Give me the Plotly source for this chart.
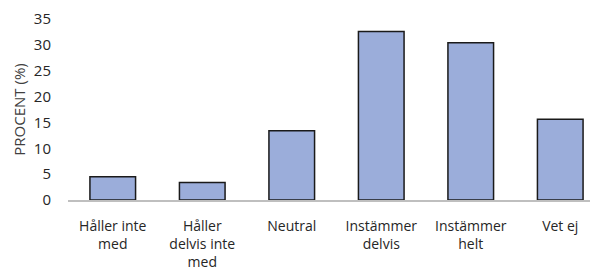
import plotly.graph_objects as go

categories = ["Håller inte<br>med", "Håller<br>delvis inte<br>med", "Neutral",
              "Instämmer<br>delvis", "Instämmer<br>helt", "Vet ej"]
values = [4.5, 3.4, 13.4, 32.6, 30.4, 15.6]
y_ticks = [0, 5, 10, 15, 20, 25, 30, 35]

fig = go.Figure(go.Bar(
    x=categories, y=values,
    marker=dict(color="#9badda", line=dict(color="#1a1a1a", width=1.5)),
))

font = "Open Sans, Liberation Sans, sans-serif"
fig.update_layout(
    width=598, height=275,
    margin=dict(l=60, r=1, t=11, b=83),
    paper_bgcolor="white", plot_bgcolor="white",
    bargap=0.49,
    showlegend=False,
    font=dict(family=font, size=14, color="#404040"),
)
fig.update_xaxes(
    showline=True, linecolor="#bfbfbf", linewidth=1.5,
    showgrid=False, ticks="", tickfont=dict(size=14, color="#262626"),
    tickangle=0, ticklabelstandoff=12,
)
fig.update_yaxes(
    range=[0, 35], tickvals=y_ticks, showgrid=False, zeroline=False,
    showline=False, ticks="", ticklabelstandoff=16,
    tickfont=dict(size=15, color="#262626"),
    title=dict(text="PROCENT (%)", font=dict(size=15, color="#404040"), standoff=4),
)

fig.write_html("out.html")
